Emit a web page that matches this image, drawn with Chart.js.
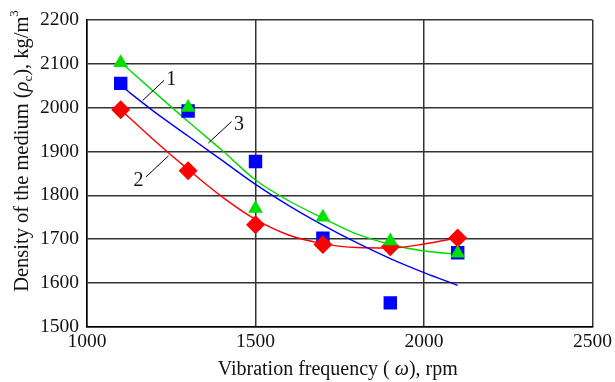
<!DOCTYPE html>
<html>
<head>
<meta charset="utf-8">
<script src="https://cdn.jsdelivr.net/npm/chart.js@4"></script>
<style>
html, body { margin: 0; padding: 0; background: #fff; }
#wrap { width: 615px; height: 382px; }
</style>
</head>
<body>
<div id="wrap"><canvas id="densityChart" width="615" height="382"></canvas></div>
<script>
// measured points
const freq = [1100, 1300, 1500, 1700, 1900, 2100];
const density1 = [2055, 1992, 1877, 1702, 1555, 1669];  // blue squares
const density2 = [1995, 1856, 1733, 1688, 1683, 1703];  // red diamonds
const density3 = [2102, 2000, 1770, 1750, 1696, 1668];  // green triangles

// fitted curves
const curveFreq = [1100, 1200, 1300, 1400, 1500, 1600, 1700, 1800, 1900, 2000, 2100];
const curve1 = [2050, 1990, 1935, 1880, 1825, 1776, 1732, 1692, 1656, 1624, 1595];
const curve2 = [1995, 1925, 1859, 1797, 1745, 1709, 1690, 1681, 1680, 1689, 1703];
const curve3 = [2103, 2035, 1968, 1903, 1835, 1787, 1748, 1712, 1688, 1673, 1666];

const xTicks = [1000, 1500, 2000, 2500];
const yTicks = [1500, 1600, 1700, 1800, 1900, 2000, 2100, 2200];

// curve labels and their leader lines (data coords)
const labelText = ['1', '2', '3'];
const labelAt = [[1250, 2068], [1153, 1838], [1451, 1965]];
const leaderFrom = [[1229, 2062], [1242, 1890], [1429, 1968]];
const leaderTo = [[1165, 2016], [1175, 1842], [1360, 1919]];

const SERIF = "'Liberation Serif', 'Times New Roman', serif";

function pts(xs, ys) {
    return xs.map((x, i) => ({ x: x, y: ys[i] }));
}

function drawRich(ctx, parts, x, y) {
    let total = 0;
    parts.forEach(p => { ctx.font = p.font; total += ctx.measureText(p.t).width; });
    let cx = x - total / 2;
    parts.forEach(p => {
        ctx.font = p.font;
        ctx.fillText(p.t, cx, y + (p.dy || 0));
        cx += ctx.measureText(p.t).width;
    });
}

const extras = {
    id: 'extras',
    afterDatasetsDraw(chart) {
        const ctx = chart.ctx;
        const xs = chart.scales.x, ys = chart.scales.y;
        ctx.save();
        ctx.strokeStyle = '#000';
        ctx.lineWidth = 1;
        for (let i = 0; i < labelText.length; i++) {
            ctx.beginPath();
            ctx.moveTo(xs.getPixelForValue(leaderFrom[i][0]), ys.getPixelForValue(leaderFrom[i][1]));
            ctx.lineTo(xs.getPixelForValue(leaderTo[i][0]), ys.getPixelForValue(leaderTo[i][1]));
            ctx.stroke();
        }
        ctx.fillStyle = '#111';
        ctx.font = '20px ' + SERIF;
        ctx.textAlign = 'center';
        ctx.textBaseline = 'alphabetic';
        for (let i = 0; i < labelText.length; i++) {
            ctx.fillText(labelText[i], xs.getPixelForValue(labelAt[i][0]), ys.getPixelForValue(labelAt[i][1]) + 7);
        }
        ctx.restore();
    },
    afterDraw(chart) {
        const ctx = chart.ctx;
        const area = chart.chartArea;
        ctx.save();
        ctx.fillStyle = '#111';
        ctx.textAlign = 'left';
        ctx.textBaseline = 'alphabetic';
        // x title
        drawRich(ctx, [
            { t: 'Vibration frequency ( ', font: '20px ' + SERIF },
            { t: 'ω', font: 'italic 20px ' + SERIF },
            { t: '), rpm', font: '20px ' + SERIF }
        ], (area.left + area.right) / 2 - 2, 375);
        // y title
        ctx.translate(28, 151);
        ctx.rotate(-Math.PI / 2);
        drawRich(ctx, [
            { t: 'Density of the medium (', font: '20.5px ' + SERIF },
            { t: 'ρ', font: 'italic 20.5px ' + SERIF },
            { t: 'c', font: '13px ' + SERIF, dy: 4 },
            { t: '), kg/m', font: '20.5px ' + SERIF },
            { t: '3', font: '13px ' + SERIF, dy: -10 }
        ], 0, 0);
        ctx.restore();
    }
};

const ctx = document.getElementById('densityChart').getContext('2d');
const densityChart = new Chart(ctx, {
    type: 'scatter',
    data: {
        datasets: [
            { label: '3', data: pts(freq, density3), pointStyle: 'triangle', pointRadius: 8.5,
              backgroundColor: '#00e000', borderColor: '#00e000', borderWidth: 0 },
            { label: '2', data: pts(freq, density2), pointStyle: 'rectRot', pointRadius: 9.5,
              backgroundColor: '#ff0000', borderColor: '#ff0000', borderWidth: 0 },
            { label: '1', data: pts(freq, density1), pointStyle: 'rect', pointRadius: 9.5,
              backgroundColor: '#0000ff', borderColor: '#0000ff', borderWidth: 0 },
            { label: 'fit 1', data: pts(curveFreq, curve1), showLine: true, pointRadius: 0,
              borderColor: '#0000ff', borderWidth: 1.4, cubicInterpolationMode: 'monotone' },
            { label: 'fit 2', data: pts(curveFreq, curve2), showLine: true, pointRadius: 0,
              borderColor: '#ff0000', borderWidth: 1.4, cubicInterpolationMode: 'monotone' },
            { label: 'fit 3', data: pts(curveFreq, curve3), showLine: true, pointRadius: 0,
              borderColor: '#00dd00', borderWidth: 1.4, cubicInterpolationMode: 'monotone' }
        ]
    },
    options: {
        responsive: false,
        animation: false,
        devicePixelRatio: 1,
        layout: { padding: { top: 13, right: 20, left: 0, bottom: 0 } },
        plugins: { legend: { display: false }, tooltip: { enabled: false } },
        scales: {
            x: {
                min: 1000, max: 2500,
                afterBuildTicks: s => { s.ticks = xTicks.map(v => ({ value: v })); },
                afterFit: s => { s.height = 55; },
                grid: { color: '#333', lineWidth: 1.5, drawTicks: false },
                border: { color: '#000', width: 1.5 },
                ticks: { color: '#111', padding: 3, maxRotation: 0, callback: v => String(v),
                         font: { family: SERIF, size: 19.5 } }
            },
            y: {
                min: 1500, max: 2200,
                afterBuildTicks: s => { s.ticks = yTicks.map(v => ({ value: v })); },
                afterFit: s => { s.width = 87; },
                grid: { color: '#333', lineWidth: 1.5, drawTicks: false },
                border: { color: '#000', width: 1.5 },
                ticks: { color: '#111', padding: 8, callback: v => String(v),
                         font: { family: SERIF, size: 19.5 } }
            }
        }
    },
    plugins: [extras]
});
</script>
</body>
</html>
